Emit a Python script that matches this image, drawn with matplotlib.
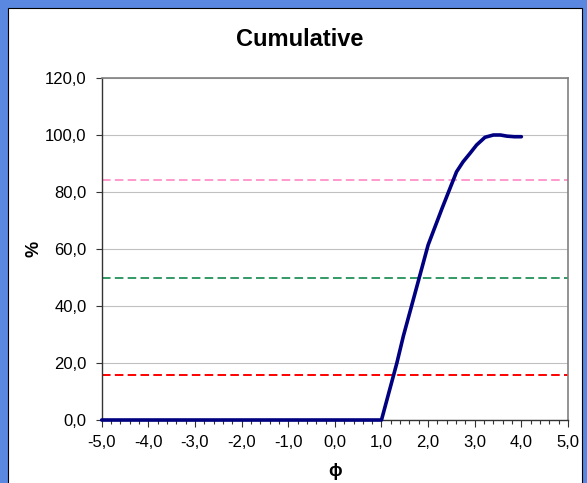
import numpy as np
import matplotlib
matplotlib.use("Agg")
import matplotlib.pyplot as plt
from matplotlib.patches import Rectangle
from matplotlib.ticker import MultipleLocator, FuncFormatter

# cumulative grain size curve (phi vs %)
phi = [-5.0, -4.0, -3.0, -2.0, -1.0, 0.0, 0.5, 0.8, 1.0, 1.33, 1.47, 1.67, 2.0,
       2.3, 2.61, 2.75, 2.9, 3.04, 3.22, 3.4, 3.55, 3.69, 3.85, 4.0]
cum = [0, 0, 0, 0, 0, 0, 0, 0, 0, 20.0, 29.5, 41.5, 61.4,
       74.3, 87.1, 90.6, 93.6, 96.5, 99.2, 100.0, 100.0, 99.6, 99.4, 99.4]

# reference percentiles (mean - sd, median, mean + sd)
ref_levels = [84.1, 50.0, 15.9]
ref_colors = ["#FF99CC", "#339966", "#FF0000"]

plt.rcParams['font.family'] = ['Liberation Sans', 'DejaVu Sans']

fig = plt.figure(figsize=(5.87, 4.83), dpi=100)
fig.patch.set_facecolor("#5A87DF")
# white chart area inside the blue frame
fig.patches.append(Rectangle((8 / 587, -0.05), 574 / 587, 1.05 - 8.5 / 483,
                             transform=fig.transFigure, facecolor="white",
                             edgecolor="black", linewidth=0.8, zorder=-10))

ax = fig.add_axes([101.7 / 587, 63 / 483, 466.3 / 587, 342 / 483])
ax.set_facecolor("white")

ax.set_xlim(-5, 5)
ax.set_ylim(0, 120)
ax.xaxis.set_major_locator(MultipleLocator(1))
ax.xaxis.set_minor_locator(MultipleLocator(0.2))
ax.yaxis.set_major_locator(MultipleLocator(20))

fmt = FuncFormatter(lambda v, p: ("%.1f" % v).replace(".", ","))
ax.xaxis.set_major_formatter(fmt)
ax.yaxis.set_major_formatter(fmt)

ax.grid(axis="y", color="#C0C0C0", linewidth=0.8)
ax.set_axisbelow(True)

for lvl, col in zip(ref_levels, ref_colors):
    ax.axhline(lvl, color=col, linewidth=1.4, dashes=(4.4, 2.2), zorder=2)

ax.plot(phi, cum, color="#000080", linewidth=2.6, solid_capstyle="round",
        solid_joinstyle="round", zorder=3, clip_on=False)

for s in ["top", "right"]:
    ax.spines[s].set_color("#808080")
    ax.spines[s].set_linewidth(1.2)
for s in ["left", "bottom"]:
    ax.spines[s].set_color("#333333")
    ax.spines[s].set_linewidth(1.0)

ax.tick_params(axis="both", which="major", labelsize=12, color="#333333",
               direction="out", width=0.8)
ax.tick_params(axis="x", which="major", length=5, pad=6)
ax.tick_params(axis="x", which="minor", length=3, width=0.8, color="#333333")
ax.tick_params(axis="y", which="major", length=4, pad=7)

fig.text(300 / 587, 1 - 40 / 483, "Cumulative", fontsize=17, fontweight="bold",
         ha="center", va="center")
ax.set_xlabel("ϕ", fontsize=13, fontweight="bold", labelpad=9)
ax.set_ylabel("%", fontsize=13, fontweight="bold", labelpad=2)

fig.savefig("out.png", dpi=100, facecolor=fig.get_facecolor())
